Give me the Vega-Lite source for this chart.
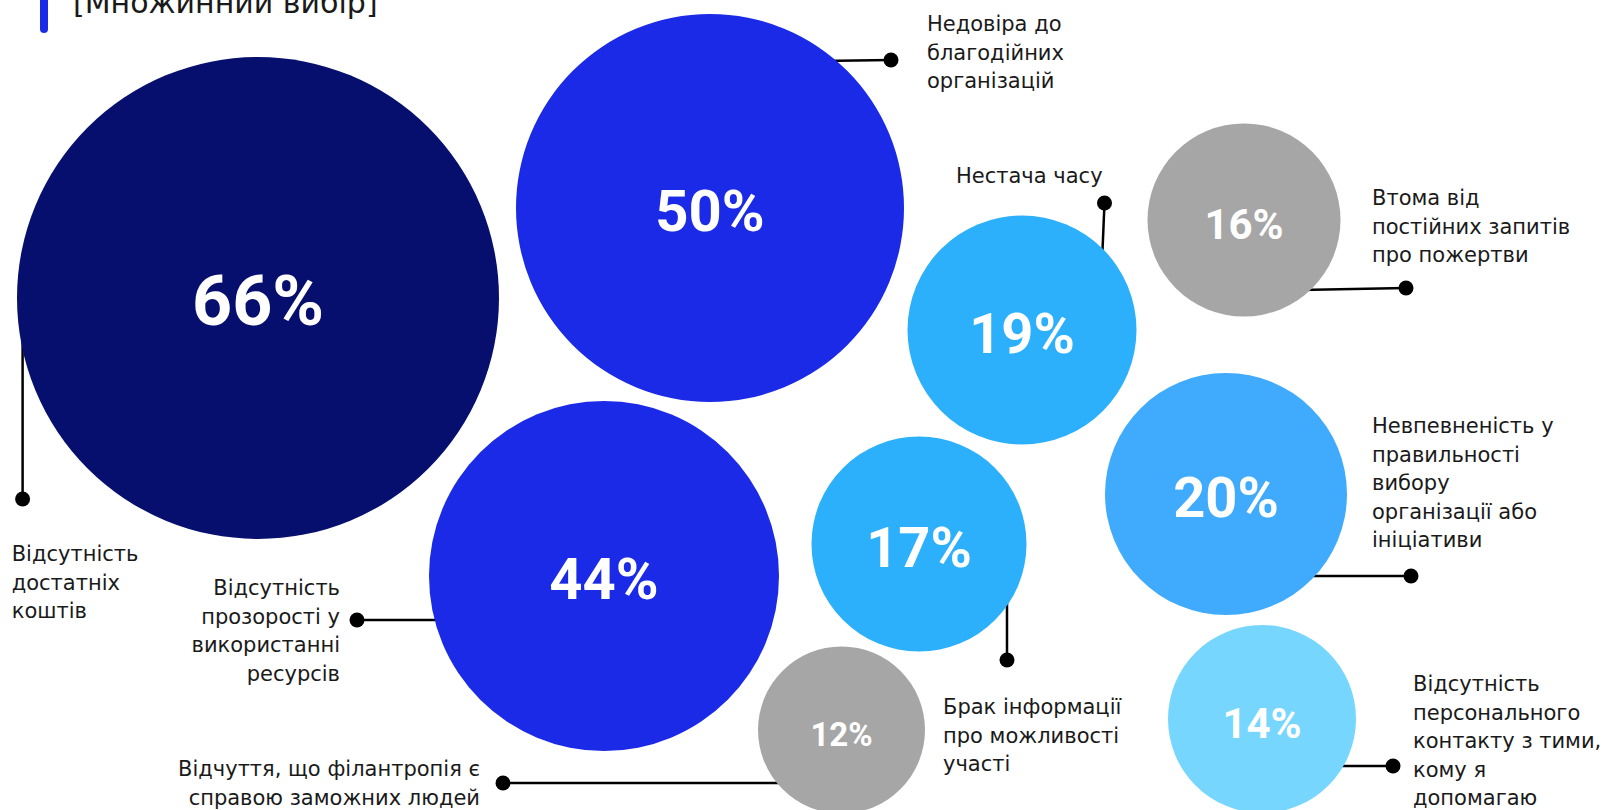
{
  "$schema": "https://vega.github.io/schema/vega-lite/v6.json",
  "width": 1608,
  "height": 810,
  "autosize": {"type": "none"},
  "padding": 0,
  "background": "#ffffff",
  "config": {"view": {"stroke": null}},
  "datasets": {
    "bubbles": [
      {"id": "funds", "label": "Відсутність\nдостатніх\nкоштів", "pct": 66, "cx": 258, "cy": 298, "lx": 22.6, "ly": 340, "px": 22.6, "py": 499, "tx": 11.7, "ty": 544},
      {"id": "distrust", "label": "Недовіра до\nблагодійних\nорганізацій", "pct": 50, "cx": 710, "cy": 208, "lx": 820, "ly": 61, "px": 891, "py": 60, "tx": 927, "ty": 14},
      {"id": "time", "label": "Нестача часу", "pct": 19, "cx": 1022, "cy": 330, "lx": 1102, "ly": 262, "px": 1104.5, "py": 203, "tx": 956, "ty": 166},
      {"id": "fatigue", "label": "Втома від\nпостійних запитів\nпро пожертви", "pct": 16, "cx": 1244, "cy": 220, "lx": 1300, "ly": 290, "px": 1406, "py": 288, "tx": 1372, "ty": 188},
      {"id": "uncertainty", "label": "Невпевненість у\nправильності\nвибору\nорганізації або\nініціативи", "pct": 20, "cx": 1226, "cy": 494, "lx": 1300, "ly": 576, "px": 1411, "py": 576, "tx": 1372, "ty": 416},
      {"id": "info", "label": "Брак інформації\nпро можливості\nучасті", "pct": 17, "cx": 919, "cy": 544, "lx": 1007, "ly": 590, "px": 1007, "py": 660, "tx": 943, "ty": 697},
      {"id": "transparency", "label": "Відсутність\nпрозорості у\nвикористанні\nресурсів", "pct": 44, "cx": 604, "cy": 576, "lx": 450, "ly": 620, "px": 357, "py": 620, "tx": 340, "ty": 578},
      {"id": "wealthy", "label": "Відчуття, що філантропія є\nсправою заможних людей", "pct": 12, "cx": 841.5, "cy": 730, "lx": 800, "ly": 783, "px": 503, "py": 783, "tx": 480, "ty": 759},
      {"id": "personal", "label": "Відсутність\nперсонального\nконтакту з тими,\nкому я\nдопомагаю", "pct": 14, "cx": 1262, "cy": 719, "lx": 1330, "ly": 766, "px": 1393, "py": 766, "tx": 1413, "ty": 674}
    ],
    "accent": [{"x": 44, "y": -30, "y2": 29}],
    "heading": [{"x": 73, "y": 13, "text": "[Множинний вибір]"}]
  },
  "resolve": {"scale": {"size": "independent", "color": "independent"}},
  "layer": [
    {
      "data": {"name": "accent"},
      "mark": {"type": "rule", "stroke": "#1B2AE6", "strokeWidth": 8, "strokeCap": "round"},
      "encoding": {
        "x": {"field": "x", "type": "quantitative", "scale": {"domain": [0, 1608], "nice": false, "zero": false}, "axis": null},
        "y": {"field": "y", "type": "quantitative", "scale": {"domain": [0, 810], "nice": false, "zero": false, "reverse": true}, "axis": null},
        "y2": {"field": "y2"}
      }
    },
    {
      "data": {"name": "heading"},
      "mark": {"type": "text", "align": "left", "baseline": "alphabetic", "font": "DejaVu Sans", "fontSize": 30, "color": "#1a1a1a"},
      "encoding": {
        "x": {"field": "x", "type": "quantitative"},
        "y": {"field": "y", "type": "quantitative"},
        "text": {"field": "text"}
      }
    },
    {
      "data": {"name": "bubbles"},
      "mark": {"type": "rule", "stroke": "#000000", "strokeWidth": 2.5},
      "encoding": {
        "x": {"field": "lx", "type": "quantitative"},
        "y": {"field": "ly", "type": "quantitative"},
        "x2": {"field": "px"},
        "y2": {"field": "py"}
      }
    },
    {
      "data": {"name": "bubbles"},
      "mark": {"type": "circle", "opacity": 1, "strokeWidth": 0},
      "encoding": {
        "x": {"field": "cx", "type": "quantitative"},
        "y": {"field": "cy", "type": "quantitative"},
        "size": {"field": "pct", "type": "quantitative", "legend": null,
          "scale": {"type": "linear", "zero": false,
            "domain": [12, 14, 16, 17, 19, 20, 44, 50, 66],
            "range": [27889, 35344, 37249, 46225, 52441, 58564, 122500, 150544, 232324]}},
        "color": {"field": "pct", "type": "ordinal", "legend": null,
          "scale": {"domain": [12, 14, 16, 17, 19, 20, 44, 50, 66],
            "range": ["#A6A6A6", "#77D6FD", "#A6A6A6", "#2DB0FB", "#2DB0FB", "#40ABFD", "#1B2AE6", "#1B2AE6", "#070F6E"]}}
      }
    },
    {
      "data": {"name": "bubbles"},
      "mark": {"type": "circle", "opacity": 1, "color": "#000000", "size": 225, "strokeWidth": 0},
      "encoding": {
        "x": {"field": "px", "type": "quantitative"},
        "y": {"field": "py", "type": "quantitative"}
      }
    },
    {
      "data": {"name": "bubbles"},
      "transform": [{"calculate": "datum.pct + '%'", "as": "pctLabel"}],
      "mark": {"type": "text", "align": "center", "baseline": "middle", "dy": 6, "font": "Roboto", "fontWeight": "bold", "color": "#ffffff"},
      "encoding": {
        "x": {"field": "cx", "type": "quantitative"},
        "y": {"field": "cy", "type": "quantitative"},
        "text": {"field": "pctLabel"},
        "size": {"field": "pct", "type": "quantitative", "legend": null,
          "scale": {"type": "threshold", "domain": [13, 17, 30, 60], "range": [33, 42, 56, 58, 70]}}
      }
    },
    {
      "data": {"name": "bubbles"},
      "transform": [{"filter": "datum.pct != 44 && datum.pct != 12"}],
      "mark": {"type": "text", "align": "left", "baseline": "top", "lineBreak": "\n", "lineHeight": 28.5, "font": "DejaVu Sans", "fontSize": 21, "color": "#1a1a1a"},
      "encoding": {
        "x": {"field": "tx", "type": "quantitative"},
        "y": {"field": "ty", "type": "quantitative"},
        "text": {"field": "label"}
      }
    },
    {
      "data": {"name": "bubbles"},
      "transform": [{"filter": "datum.pct == 44 || datum.pct == 12"}],
      "mark": {"type": "text", "align": "right", "baseline": "top", "lineBreak": "\n", "lineHeight": 28.5, "font": "DejaVu Sans", "fontSize": 21, "color": "#1a1a1a"},
      "encoding": {
        "x": {"field": "tx", "type": "quantitative"},
        "y": {"field": "ty", "type": "quantitative"},
        "text": {"field": "label"}
      }
    }
  ]
}
